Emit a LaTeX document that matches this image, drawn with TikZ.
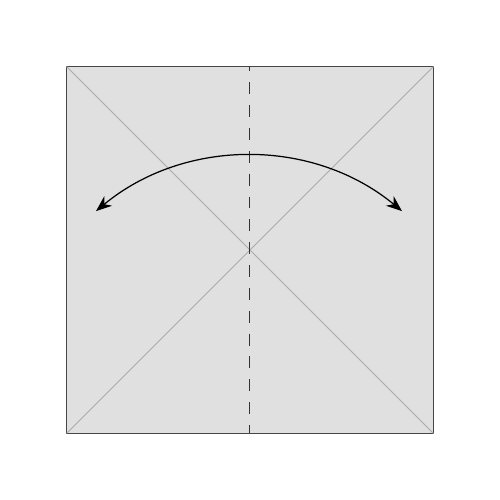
\documentclass[tikz,border=0pt]{standalone}
\usepackage{tikz}
\usetikzlibrary{arrows.meta, calc}
\definecolor{paper_fill}{RGB}{224, 224, 224}
\definecolor{paper_edge}{RGB}{70, 70, 70}
\definecolor{crease_gray}{RGB}{170, 170, 170}

\begin{document}
\begin{tikzpicture}[
        sheet/.style={draw=paper_edge, fill=paper_fill, line width=0.5pt},
        crease/.style={draw=crease_gray, line width=0.5pt},
        valley/.style={draw=black!80, line width=0.5pt,
                       dash pattern=on 6.8pt off 6.2pt, dash phase=4pt},
        swing/.style={{Stealth[length=9pt,width=7pt]}-{Stealth[length=9pt,width=7pt]}, line width=0.7pt}]
        \useasboundingbox (0,0) rectangle (10,10);
        % Feuille
        \coordinate (bl) at (1.33,1.33);
        \coordinate (br) at (8.67,1.33);
        \coordinate (tr) at (8.67,8.67);
        \coordinate (tl) at (1.33,8.67);
        \draw[sheet] (bl) rectangle (tr);
        % Plis diagonaux
        \draw[crease] (bl) -- (tr);
        \draw[crease] (tl) -- (br);
        % Pli vallée
        \coordinate (vt) at (4.98,8.67);
        \coordinate (vb) at (4.98,1.33);
        \draw[valley] (vt) -- (vb);
        % Flèche
        \coordinate (sl) at ($(4.98,2.08)+(129.6:4.8)$);
        \draw[swing] (sl) arc[start angle=129.6, end angle=50.4, radius=4.8];
      \end{tikzpicture}
\end{document}
